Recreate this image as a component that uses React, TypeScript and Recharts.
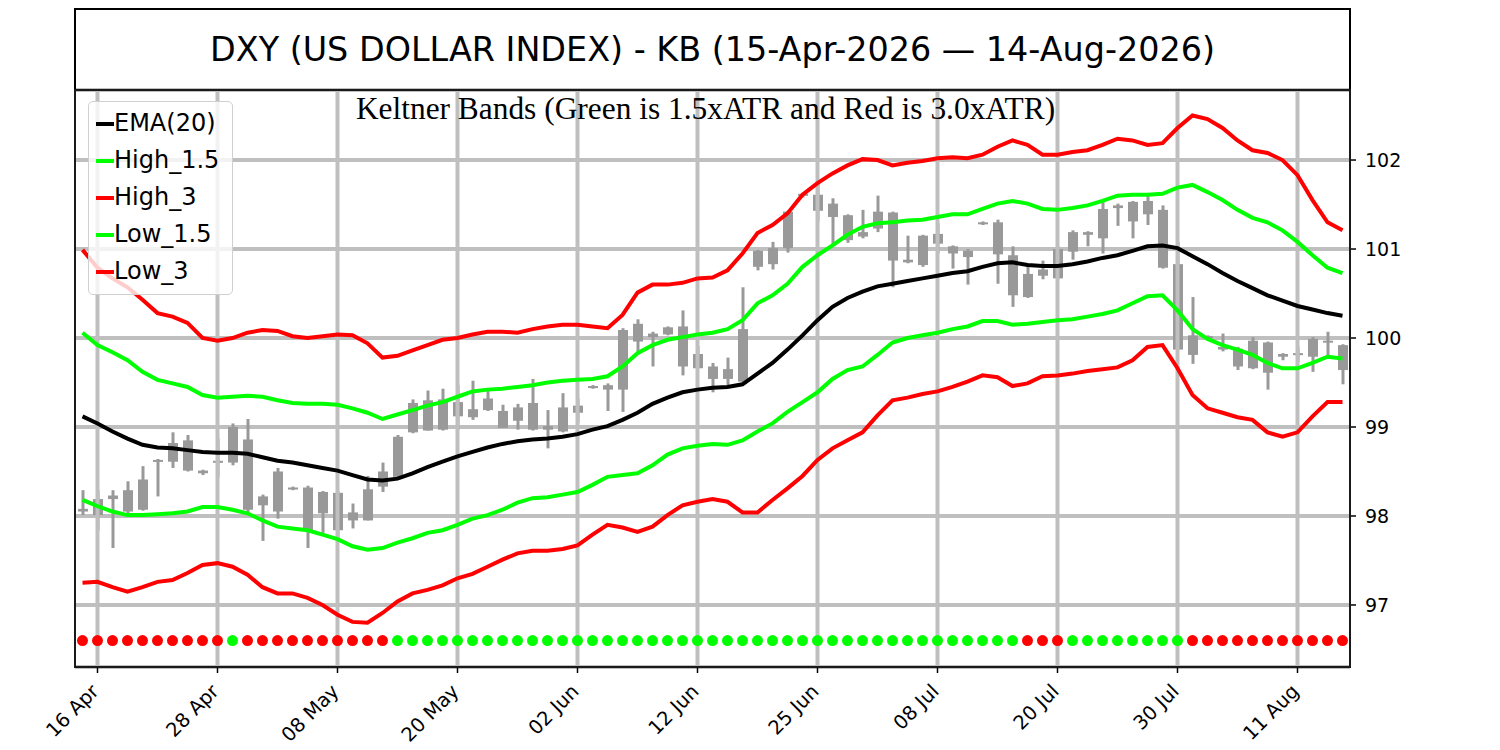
import React from 'react';
import { ComposedChart, Line, Bar, XAxis, YAxis, CartesianGrid, ReferenceLine } from 'recharts';

// trading days, 15 Apr - 14 Aug 2026
const dates = [
  '15 Apr', '16 Apr', '17 Apr', '20 Apr', '21 Apr', '22 Apr', '23 Apr', '24 Apr', '27 Apr', '28 Apr', '29 Apr', '30 Apr',
  '01 May', '04 May', '05 May', '06 May', '07 May', '08 May', '11 May', '12 May', '13 May', '14 May', '15 May', '18 May',
  '19 May', '20 May', '21 May', '22 May', '26 May', '27 May', '28 May', '29 May',
  '01 Jun', '02 Jun', '03 Jun', '04 Jun', '05 Jun', '08 Jun', '09 Jun', '10 Jun', '11 Jun', '12 Jun', '15 Jun', '16 Jun',
  '17 Jun', '18 Jun', '22 Jun', '23 Jun', '24 Jun', '25 Jun', '26 Jun', '29 Jun', '30 Jun',
  '01 Jul', '02 Jul', '06 Jul', '07 Jul', '08 Jul', '09 Jul', '10 Jul', '13 Jul', '14 Jul', '15 Jul', '16 Jul', '17 Jul',
  '20 Jul', '21 Jul', '22 Jul', '23 Jul', '24 Jul', '27 Jul', '28 Jul', '29 Jul', '30 Jul', '31 Jul',
  '03 Aug', '04 Aug', '05 Aug', '06 Aug', '07 Aug', '10 Aug', '11 Aug', '12 Aug', '13 Aug', '14 Aug',
];

const tickLabels = ['16 Apr', '28 Apr', '08 May', '20 May', '02 Jun', '12 Jun', '25 Jun', '08 Jul', '20 Jul', '30 Jul', '11 Aug'];
const yTicks = [97, 98, 99, 100, 101, 102];

const opens = [
  98.05, 98.01, 98.19, 98.29, 98.07, 98.61, 98.61, 98.85, 98.51, 98.60, 98.60, 98.86, 98.12, 98.05, 98.32, 98.32, 98.03,
  98.26, 97.95, 97.95, 98.33, 98.44, 98.94, 99.30, 98.97, 99.28, 99.11, 99.19, 99.18, 99.07, 99.27, 98.97, 98.95, 99.24,
  99.45, 99.47, 99.42, 100.16, 100.01, 100.04, 100.13, 99.66, 99.68, 99.54, 99.51, 100.80, 101.01, 101.01, 101.60, 101.61,
  101.36, 101.38, 101.14, 101.23, 101.41, 100.85, 100.82, 101.17, 101.03, 100.98, 101.29, 101.30, 100.93, 100.46, 100.70,
  100.67, 100.97, 101.19, 101.12, 101.46, 101.53, 101.39, 101.44, 100.83, 99.81, 100.02, 99.90, 99.88, 99.66, 99.95, 99.79,
  99.83, 99.79, 99.97, 99.92,
];
const highs = [
  98.29, 98.29, 98.29, 98.39, 98.56, 98.64, 98.94, 98.91, 98.52, 98.87, 99.04, 99.09, 98.24, 98.54, 98.33, 98.34, 98.28,
  98.28, 98.14, 98.45, 98.60, 98.91, 99.31, 99.41, 99.43, 99.47, 99.52, 99.42, 99.25, 99.26, 99.54, 99.19, 99.38, 99.32,
  99.47, 99.49, 100.11, 100.21, 100.07, 100.13, 100.31, 99.91, 99.72, 99.78, 100.57, 100.99, 101.08, 101.43, 101.63, 101.76,
  101.57, 101.39, 101.44, 101.60, 101.42, 101.15, 101.16, 101.29, 101.04, 101.00, 101.31, 101.33, 101.03, 100.82, 100.87,
  101.03, 101.21, 101.20, 101.55, 101.51, 101.54, 101.63, 101.49, 101.08, 100.46, 100.03, 100.05, 99.90, 100.01, 99.96,
  99.83, 99.90, 100.01, 100.07, 99.93,
];
const lows = [
  98.01, 97.84, 97.64, 97.99, 98.06, 98.22, 98.54, 98.50, 98.46, 98.44, 98.57, 98.01, 97.72, 97.97, 98.29, 97.64, 97.81,
  97.74, 97.86, 97.95, 98.27, 98.42, 98.93, 98.96, 98.96, 98.97, 99.08, 99.18, 98.99, 98.97, 98.96, 98.76, 98.94, 99.05,
  99.43, 99.18, 99.17, 99.84, 99.68, 100.03, 99.58, 99.66, 99.39, 99.47, 99.49, 100.76, 100.77, 100.96, 101.58, 101.31,
  101.04, 101.07, 101.12, 101.19, 100.57, 100.84, 100.80, 100.95, 100.78, 100.60, 101.27, 100.61, 100.35, 100.45, 100.66,
  100.66, 100.88, 101.03, 100.95, 101.26, 101.12, 101.27, 100.78, 99.87, 99.71, 99.98, 99.85, 99.64, 99.65, 99.42,
  99.75, 99.73, 99.62, 99.79, 99.48,
];
const closes = [
  98.08, 98.19, 98.23, 98.05, 98.41, 98.63, 98.82, 98.51, 98.48, 98.62, 99.00, 98.07, 98.22, 98.50, 98.31, 97.84, 98.27,
  97.84, 98.04, 98.30, 98.50, 98.89, 99.27, 98.96, 99.31, 99.12, 99.20, 99.32, 98.99, 99.22, 98.97, 99.01, 99.22, 99.16,
  99.46, 99.42, 100.09, 99.96, 100.05, 100.12, 99.68, 99.82, 99.54, 99.65, 100.10, 100.98, 100.83, 101.42, 101.62, 101.43,
  101.51, 101.10, 101.19, 101.42, 100.87, 100.88, 101.15, 101.06, 100.95, 100.91, 101.30, 100.94, 100.48, 100.72, 100.77,
  101.00, 101.19, 101.16, 101.45, 101.49, 101.31, 101.54, 100.79, 99.87, 100.03, 100.00, 99.87, 99.68, 99.97, 99.61,
  99.82, 99.81, 99.99, 99.95, 99.64,
];

const ema20 = [
  99.12, 99.04, 98.95, 98.87, 98.80, 98.77, 98.76, 98.74, 98.72, 98.71, 98.71, 98.70, 98.66, 98.62, 98.60, 98.57, 98.54,
  98.51, 98.46, 98.41, 98.40, 98.42, 98.48, 98.55, 98.61, 98.67, 98.72, 98.77, 98.81, 98.84, 98.86, 98.87, 98.89, 98.92,
  98.97, 99.01, 99.08, 99.16, 99.26, 99.33, 99.39, 99.42, 99.44, 99.45, 99.48, 99.60, 99.72, 99.87, 100.03, 100.20,
  100.35, 100.45, 100.52, 100.58, 100.61, 100.64, 100.67, 100.70, 100.73, 100.75, 100.80, 100.84, 100.85, 100.82, 100.81,
  100.81, 100.83, 100.86, 100.90, 100.93, 100.98, 101.03, 101.04, 101.01, 100.92, 100.83, 100.73, 100.64, 100.56, 100.48,
  100.42, 100.36, 100.32, 100.28, 100.25,
];
const high15 = [
  100.06, 99.92, 99.84, 99.75, 99.62, 99.53, 99.49, 99.45, 99.36, 99.33, 99.34, 99.35, 99.34, 99.30, 99.27, 99.26, 99.26,
  99.25, 99.21, 99.16, 99.09, 99.14, 99.19, 99.24, 99.28, 99.34, 99.40, 99.42, 99.43, 99.45, 99.47, 99.50, 99.52, 99.53,
  99.54, 99.57, 99.68, 99.83, 99.92, 99.98, 100.01, 100.04, 100.06, 100.10, 100.20, 100.39, 100.48, 100.61, 100.80, 100.93,
  101.04, 101.16, 101.25, 101.29, 101.30, 101.32, 101.33, 101.36, 101.39, 101.39, 101.45, 101.51, 101.54, 101.51, 101.45,
  101.44, 101.46, 101.49, 101.54, 101.60, 101.61, 101.61, 101.62, 101.69, 101.72, 101.64, 101.55, 101.44, 101.35, 101.30,
  101.21, 101.08, 100.93, 100.79, 100.73,
];
const low15 = [
  98.18, 98.11, 98.05, 98.01, 98.01, 98.02, 98.03, 98.05, 98.10, 98.10, 98.07, 98.03, 97.95, 97.88, 97.86, 97.84, 97.79,
  97.74, 97.66, 97.62, 97.64, 97.70, 97.75, 97.81, 97.84, 97.90, 97.97, 98.01, 98.07, 98.15, 98.20, 98.21, 98.24, 98.27,
  98.35, 98.44, 98.46, 98.48, 98.57, 98.69, 98.76, 98.79, 98.81, 98.80, 98.85, 98.95, 99.04, 99.17, 99.28, 99.39, 99.54,
  99.64, 99.68, 99.81, 99.95, 100.00, 100.03, 100.06, 100.10, 100.13, 100.19, 100.19, 100.15, 100.16, 100.18, 100.20,
  100.21, 100.24, 100.27, 100.31, 100.39, 100.47, 100.48, 100.31, 100.10, 99.99, 99.92, 99.87, 99.81, 99.72, 99.66, 99.66,
  99.72, 99.79, 99.77,
];
const high3 = [
  100.99, 100.79, 100.67, 100.57, 100.43, 100.28, 100.24, 100.17, 100.00, 99.97, 100.00, 100.06, 100.09, 100.08, 100.02,
  100.00, 100.02, 100.04, 100.03, 99.94, 99.78, 99.80, 99.86, 99.92, 99.98, 100.00, 100.04, 100.07, 100.07, 100.06,
  100.10, 100.13, 100.15, 100.15, 100.13, 100.11, 100.26, 100.51, 100.60, 100.60, 100.62, 100.67, 100.68, 100.76, 100.95,
  101.18, 101.27, 101.40, 101.61, 101.74, 101.85, 101.94, 102.01, 102.00, 101.94, 101.97, 101.99, 102.02, 102.03, 102.02,
  102.06, 102.15, 102.22, 102.17, 102.06, 102.06, 102.09, 102.11, 102.17, 102.24, 102.22, 102.17, 102.19, 102.36, 102.50,
  102.46, 102.36, 102.22, 102.11, 102.08, 102.00, 101.83, 101.55, 101.30, 101.21,
];
const low3 = [
  97.25, 97.26, 97.20, 97.15, 97.20, 97.26, 97.28, 97.36, 97.45, 97.47, 97.43, 97.34, 97.20, 97.13, 97.13, 97.08, 97.00,
  96.89, 96.81, 96.80, 96.91, 97.04, 97.13, 97.17, 97.22, 97.30, 97.35, 97.43, 97.51, 97.58, 97.61, 97.61, 97.63, 97.67,
  97.79, 97.90, 97.87, 97.82, 97.88, 98.01, 98.12, 98.16, 98.19, 98.16, 98.04, 98.04, 98.18, 98.31, 98.45, 98.63, 98.76,
  98.85, 98.94, 99.13, 99.30, 99.33, 99.37, 99.40, 99.45, 99.51, 99.58, 99.56, 99.46, 99.49, 99.57, 99.58, 99.60, 99.63,
  99.65, 99.67, 99.75, 99.90, 99.92, 99.66, 99.36, 99.21, 99.16, 99.11, 99.08, 98.94, 98.89, 98.94, 99.12, 99.28, 99.28,
];

// bottom markers: r = red, g = green
const signals = [
  'r', 'r', 'r', 'r', 'r', 'r', 'r', 'r', 'r', 'r', 'g', 'r', 'r', 'r', 'r', 'r', 'r', 'r', 'r', 'r', 'r',
  'g', 'g', 'g', 'g', 'g', 'g', 'g', 'g', 'g', 'g', 'g', 'g', 'g', 'g', 'g', 'g', 'g', 'g', 'g', 'g', 'g',
  'g', 'g', 'g', 'g', 'g', 'g', 'g', 'g', 'g', 'g', 'g', 'g', 'g', 'g', 'g', 'g', 'g', 'g', 'g', 'g', 'g',
  'r', 'r', 'r', 'g', 'g', 'g', 'g', 'g', 'g', 'g', 'g', 'r', 'r', 'r', 'r', 'r', 'r', 'r', 'r', 'r', 'r', 'r', 'r',
];
const SIGNAL_LEVEL = 96.6;

const data = dates.map((date, i) => ({
  date,
  open: opens[i],
  high: highs[i],
  low: lows[i],
  close: closes[i],
  range: [lows[i], highs[i]],
  ema: ema20[i],
  high15: high15[i],
  low15: low15[i],
  high3: high3[i],
  low3: low3[i],
  signal: signals[i],
  marker: SIGNAL_LEVEL,
}));

const GREEN = '#00ff00';
const RED = '#ff0000';
const CANDLE = '#999999';
const GRID = '#bfbfbf';
const SANS = 'DejaVu Sans, sans-serif';

const legendItems = [
  { name: 'EMA(20)', color: '#000000' },
  { name: 'High_1.5', color: GREEN },
  { name: 'High_3', color: RED },
  { name: 'Low_1.5', color: GREEN },
  { name: 'Low_3', color: RED },
];

const Candle = (props: any) => {
  const { x, y, width, height, payload } = props;
  if (x == null || y == null) return <g />;
  const top = height < 0 ? y + height : y;
  const h = Math.abs(height);
  const ppu = h / (payload.high - payload.low);
  const cx = x + width / 2;
  const bodyTop = top + (payload.high - Math.max(payload.open, payload.close)) * ppu;
  const bodyBot = top + (payload.high - Math.min(payload.open, payload.close)) * ppu;
  return (
    <g>
      <rect x={cx - 1.5} y={top} width={3} height={h} fill={CANDLE} />
      <rect x={x} y={bodyTop} width={width} height={Math.max(bodyBot - bodyTop, 2)} fill={CANDLE} />
    </g>
  );
};

const SignalDot = (props: any) => {
  const { cx, cy, payload, index } = props;
  if (cx == null || cy == null) return <g key={index} />;
  return <circle key={index} cx={cx} cy={cy} r={5.5} fill={payload.signal === 'r' ? RED : GREEN} />;
};

const DateTick = (props: any) => {
  const { x, y, payload } = props;
  if (!tickLabels.includes(payload.value)) return <g />;
  const tx = x + 2.5;
  const ty = y + 25.5;
  return (
    <g>
      <line x1={x} x2={x} y1={y} y2={y + 6} stroke="#000" strokeWidth={1.5} />
      <text
        x={tx}
        y={ty}
        transform={`rotate(-45 ${tx} ${ty})`}
        textAnchor="end"
        fontSize={19.5}
        fontFamily={SANS}
        fill="#000"
      >
        {payload.value}
      </text>
    </g>
  );
};

export default function App() {
  return (
    <div
      style={{
        position: 'absolute',
        left: 0,
        top: 0,
        width: 1500,
        height: 750,
        background: '#fff',
        overflow: 'hidden',
        fontFamily: SANS,
      }}
    >
      <ComposedChart
        width={1500}
        height={750}
        data={data}
        margin={{ top: 90, right: 0, left: 75, bottom: 0 }}
      >
        <CartesianGrid vertical={false} stroke={GRID} strokeWidth={4} />
        {tickLabels.map((d) => (
          <ReferenceLine key={d} x={d} stroke={GRID} strokeWidth={4} />
        ))}
        <XAxis
          dataKey="date"
          type="category"
          interval={0}
          height={83}
          tickSize={0}
          tickMargin={0}
          tickLine={false}
          axisLine={false}
          tick={<DateTick />}
        />
        <YAxis
          orientation="right"
          width={150}
          type="number"
          domain={[96.303, 102.787]}
          allowDataOverflow
          ticks={yTicks}
          axisLine={false}
          tickLine={{ stroke: '#000', strokeWidth: 1.5 }}
          tickSize={6}
          tickMargin={9}
          tick={{ fontSize: 19, fill: '#000', fontFamily: SANS }}
        />
        <Line type="linear" dataKey="ema" stroke="#000" strokeWidth={4} dot={false} isAnimationActive={false} />
        <Line type="linear" dataKey="high15" stroke={GREEN} strokeWidth={4} dot={false} isAnimationActive={false} />
        <Line type="linear" dataKey="high3" stroke={RED} strokeWidth={4} dot={false} isAnimationActive={false} />
        <Line type="linear" dataKey="low15" stroke={GREEN} strokeWidth={4} dot={false} isAnimationActive={false} />
        <Line type="linear" dataKey="low3" stroke={RED} strokeWidth={4} dot={false} isAnimationActive={false} />
        <Bar dataKey="range" barSize={10} shape={<Candle />} isAnimationActive={false} />
        <Line
          dataKey="marker"
          stroke="none"
          dot={SignalDot}
          activeDot={false}
          legendType="none"
          isAnimationActive={false}
        />
      </ComposedChart>

      {/* title box */}
      <div
        style={{
          position: 'absolute',
          left: 74,
          top: 8,
          width: 1277,
          height: 83,
          boxSizing: 'border-box',
          border: '2px solid #000',
          display: 'flex',
          alignItems: 'center',
          justifyContent: 'center',
          fontSize: 33.4,
          color: '#000',
        }}
      >
        DXY (US DOLLAR INDEX) - KB (15-Apr-2026 — 14-Aug-2026)
      </div>

      {/* plot frame */}
      <div
        style={{
          position: 'absolute',
          left: 74,
          top: 89,
          width: 1277,
          height: 579,
          boxSizing: 'border-box',
          border: '2px solid #1a1a1a',
          pointerEvents: 'none',
        }}
      />

      <div
        style={{
          position: 'absolute',
          left: 61,
          width: 1289,
          top: 91,
          textAlign: 'center',
          fontFamily: 'Liberation Serif, serif',
          fontSize: 31.4,
          lineHeight: '36px',
          color: '#000',
        }}
      >
        Keltner Bands (Green is 1.5xATR and Red is 3.0xATR)
      </div>

      {/* legend */}
      <div
        style={{
          position: 'absolute',
          left: 88,
          top: 101,
          width: 145,
          height: 194,
          boxSizing: 'border-box',
          border: '1px solid #d0d0d0',
          borderRadius: 5,
          background: 'rgba(255,255,255,0.8)',
          paddingTop: 3,
        }}
      >
        {legendItems.map((item) => (
          <div key={item.name} style={{ display: 'flex', alignItems: 'center', height: 37, paddingLeft: 7 }}>
            <div style={{ width: 18, height: 4, background: item.color }} />
            <span style={{ fontSize: 24, lineHeight: '37px', color: '#000' }}>{item.name}</span>
          </div>
        ))}
      </div>
    </div>
  );
}
